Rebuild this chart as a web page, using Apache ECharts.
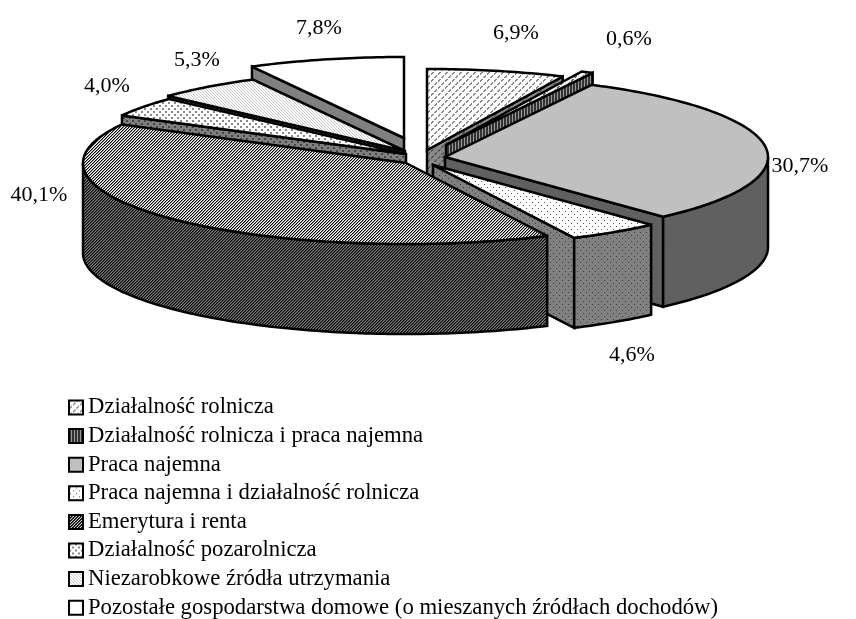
<!DOCTYPE html>
<html><head><meta charset="utf-8">
<style>html,body{margin:0;padding:0;background:#fff}#c{width:856px;height:619px}</style>
<script src="https://cdn.jsdelivr.net/npm/echarts@6/dist/echarts.min.js"></script>
</head><body><div id="c"></div>
<script>
// ---- data ----
const categories = ['Działalność rolnicza','Działalność rolnicza i praca najemna','Praca najemna','Praca najemna i działalność rolnicza','Emerytura i renta','Działalność pozarolnicza','Niezarobkowe źródła utrzymania','Pozostałe gospodarstwa domowe (o mieszanych źródłach dochodów)'];
const shares = [6.9,0.6,30.7,4.6,40.1,4.0,5.3,7.8];
const shareLabels = ['6,9%','0,6%','30,7%','4,6%','40,1%','4,0%','5,3%','7,8%'];

// ---- layout / style config ----
const FONT = '"Liberation Serif","Times New Roman",serif';
const pie = {cx:422, cy:159, a:323, b:81, h:90};
const explode = [[5,-9],[24,-14],[23,-2],[11,6],[-16,4],[-16,-5],[-17,-8],[-18,-21]];
const labelAt = [[516,33],[629,39],[800,166],[632,355],[39,195],[107,86],[197,60],[319,28]];
const drawOrder = [7,0,1,6,5,2,3,4];

function tile(w,h,colorAt){
  const c=document.createElement('canvas');c.width=w;c.height=h;
  const g=c.getContext('2d');
  for(let y=0;y<h;y++)for(let x=0;x<w;x++){g.fillStyle=colorAt(x,y);g.fillRect(x,y,1,1);}
  return {image:c,repeat:'repeat'};
}
const two=(bg,fg,fn)=>(x,y)=>fn(x,y)?fg:bg;
const weave=(x,y)=>(x+y)%7<2&&((x-y)%7+7)%7<5;
const dotsFine=(x,y)=>(x%6===1&&y%6===1)||(x%6===4&&y%6===4);
const dotsBig=(x,y)=>(x%6<2&&y%6<2)||((x+3)%6<2&&(y+3)%6<2);
const diagFine=(x,y)=>((x-y)%3+3)%3===0;
const vert=(x,y)=>x%3<2;
const tri=(a,b,c)=>(x,y)=>[a,b,c][(x+y)%3];
const topFill = [
  tile(7,7,two('#fff','#888',weave)),
  tile(7,7,two('#eee','#666',weave)),
  '#c0c0c0',
  tile(6,6,two('#fff','#555',dotsFine)),
  tile(3,3,tri('#000','#999','#fff')),
  tile(6,6,two('#fff','#888',dotsBig)),
  tile(3,3,two('#fff','#c4c4c4',diagFine)),
  '#fff'
];
const sideFill = [
  tile(7,7,two('#888','#555',weave)),
  tile(3,3,two('#999','#333',vert)),
  '#606060',
  tile(6,6,two('#808080','#3c3c3c',dotsFine)),
  tile(3,3,tri('#000','#444','#808080')),
  tile(6,6,two('#808080','#444',dotsBig)),
  '#808080',
  '#808080'
];
const legendFill = [topFill[0],sideFill[1],topFill[2],topFill[3],tile(3,3,tri('#000','#333','#ddd')),topFill[5],topFill[6],topFill[7]];
const total = shares.reduce((s,v)=>s+v,0);
const startShare = shares.map((_,i)=>shares.slice(0,i).reduce((s,v)=>s+v,0));
const deg = d=>d*Math.PI/180;

function renderSlice(i, api){
  const value = api.value(0);
  const t0 = startShare[i]/total*360, t1 = t0+value/total*360;
  const [dx,dy] = explode[i];
  const ax = pie.cx+dx, ay = pie.cy+dy;
  const P = (t,z)=>[ax+pie.a*Math.sin(deg(t)), ay-pie.b*Math.cos(deg(t))+z*pie.h];
  const arc = (from,to,z)=>{const n=Math.max(2,Math.ceil(Math.abs(to-from)));const o=[];
    for(let k=0;k<=n;k++)o.push(P(from+(to-from)*k/n,z));return o;};
  const line = {stroke:'#000',lineWidth:2.5,lineJoin:'miter',miterLimit:3};
  const poly = (points,fill)=>({type:'polygon',shape:{points},style:Object.assign({fill},line)});
  const kids = [];
  const radial = t=>poly([[ax,ay],P(t,0),P(t,1),[ax,ay+pie.h]],sideFill[i]);
  if(t0>180 && t0<360) kids.push(radial(t0));
  if(t1>0 && t1<180) kids.push(radial(t1));
  const w0=Math.max(t0,90), w1=Math.min(t1,270);
  if(w1>w0) kids.push(poly(arc(w0,w1,0).concat(arc(w1,w0,1)),sideFill[i]));
  kids.push(poly([[ax,ay]].concat(arc(t0,t1,0)),topFill[i]));
  kids.push({type:'text',style:{text:shareLabels[i],x:labelAt[i][0],y:labelAt[i][1],align:'center',verticalAlign:'middle',font:'22px '+FONT,fill:'#000'}});
  return {type:'group',children:kids};
}

const chart = echarts.init(document.getElementById('c'),null,{renderer:'canvas'});
chart.setOption({
  animation:false,
  backgroundColor:'#fff',
  legend:{
    orient:'vertical',left:68,top:396,width:780,height:300,padding:0,
    itemWidth:14,itemHeight:14,itemGap:5.6,selectedMode:false,
    textStyle:{fontFamily:FONT,fontSize:22.7,color:'#000',lineHeight:22},
    data:categories.map((name,i)=>({name,icon:'rect',itemStyle:{color:legendFill[i],borderColor:'#000',borderWidth:2}}))
  },
  series:categories.map((name,i)=>({
    type:'custom',name,coordinateSystem:'none',silent:true,
    z:2+drawOrder.indexOf(i),
    itemStyle:{color:topFill[i]},
    data:[[shares[i]]],
    renderItem:(p,api)=>renderSlice(i,api)
  }))
});
</script></body></html>
